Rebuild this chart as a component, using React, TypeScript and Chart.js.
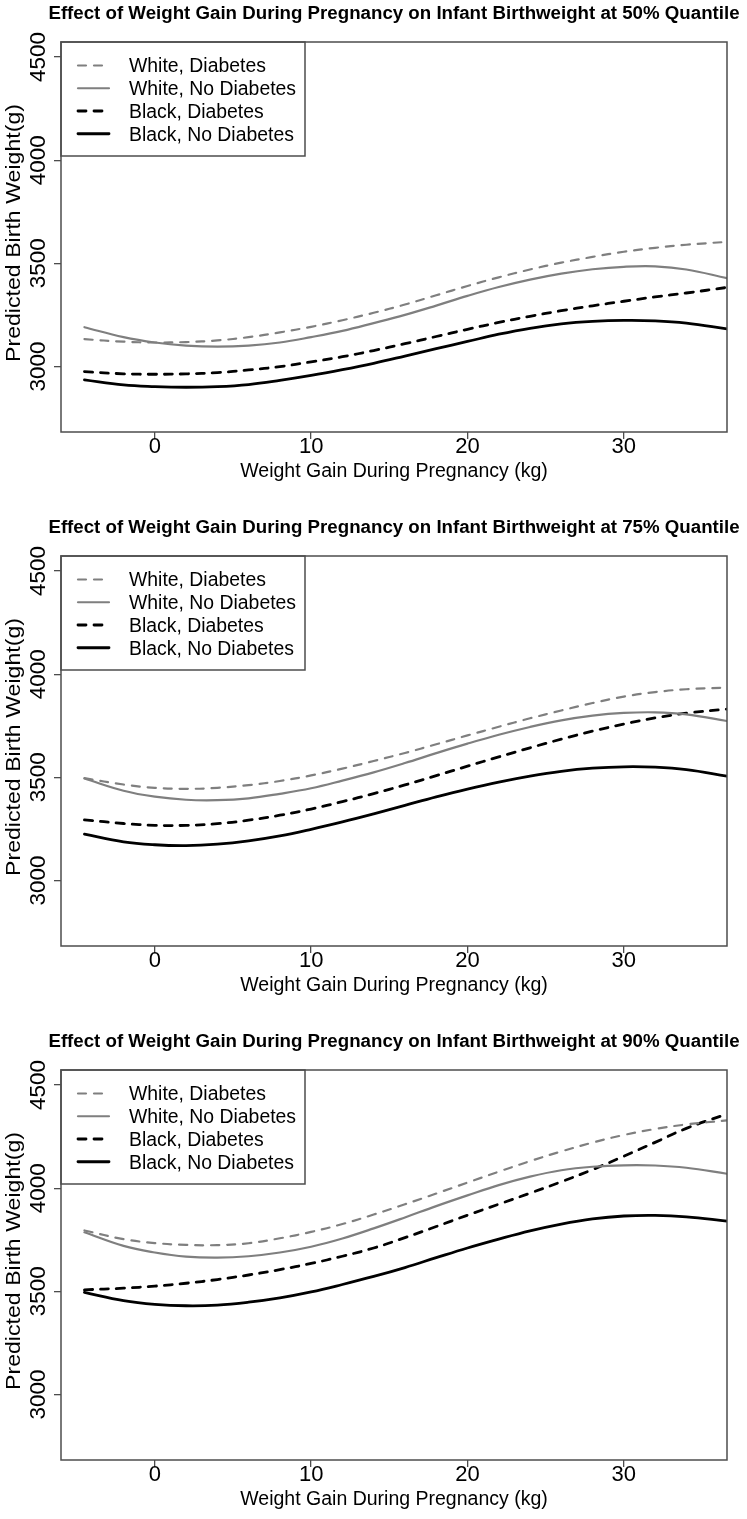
import { useEffect, useRef } from 'react';
import { Chart, registerables } from 'chart.js';

Chart.register(...registerables);

const FONT = '"Liberation Sans", Arial, Helvetica, sans-serif';

// weight gain (kg) at which the curves were read
const weightGain = [-4.5, -2, 0, 2, 4, 6, 8, 10, 12, 14, 16, 18, 20, 22, 24, 26, 28, 30, 32, 34, 36.6];

const xTicks = [0, 10, 20, 30];
const yTicks = [3000, 3500, 4000, 4500];

const seriesLabels = ['White, Diabetes', 'White, No Diabetes', 'Black, Diabetes', 'Black, No Diabetes'];

// 50% quantile
const q50WhiteDiabetes = [3132, 3120, 3116, 3118, 3126, 3142, 3165, 3192, 3224, 3260, 3300, 3345, 3390, 3432, 3470, 3503, 3531, 3556, 3575, 3590, 3604];
const q50WhiteNoDiabetes = [3190, 3142, 3116, 3101, 3096, 3101, 3116, 3142, 3172, 3210, 3250, 3295, 3342, 3385, 3421, 3450, 3471, 3483, 3485, 3470, 3428];
const q50BlackDiabetes = [2975, 2964, 2962, 2964, 2970, 2983, 2999, 3022, 3047, 3077, 3110, 3145, 3180, 3213, 3243, 3270, 3294, 3316, 3337, 3356, 3383];
const q50BlackNoDiabetes = [2935, 2910, 2902, 2899, 2902, 2912, 2932, 2956, 2984, 3015, 3050, 3086, 3121, 3156, 3185, 3206, 3218, 3223, 3221, 3210, 3182];

// 75% quantile
const q75WhiteDiabetes = [3496, 3465, 3449, 3444, 3449, 3462, 3482, 3509, 3542, 3579, 3618, 3660, 3703, 3745, 3786, 3824, 3860, 3891, 3913, 3927, 3935];
const q75WhiteNoDiabetes = [3494, 3435, 3406, 3391, 3389, 3398, 3420, 3447, 3484, 3524, 3569, 3617, 3663, 3706, 3744, 3776, 3799, 3812, 3815, 3805, 3773];
const q75BlackDiabetes = [3294, 3276, 3267, 3267, 3275, 3292, 3316, 3346, 3382, 3421, 3463, 3508, 3554, 3599, 3643, 3685, 3724, 3758, 3788, 3811, 3831];
const q75BlackNoDiabetes = [3224, 3187, 3173, 3169, 3176, 3192, 3216, 3248, 3284, 3323, 3364, 3405, 3443, 3477, 3506, 3529, 3544, 3551, 3549, 3537, 3506];

// 90% quantile
const q90WhiteDiabetes = [3795, 3753, 3734, 3725, 3724, 3733, 3757, 3788, 3826, 3872, 3922, 3974, 4027, 4080, 4131, 4178, 4221, 4258, 4287, 4309, 4329];
const q90WhiteNoDiabetes = [3786, 3720, 3688, 3668, 3663, 3670, 3688, 3716, 3756, 3805, 3858, 3913, 3965, 4015, 4056, 4087, 4104, 4111, 4110, 4099, 4070];
const q90BlackDiabetes = [3507, 3515, 3525, 3539, 3557, 3579, 3605, 3635, 3670, 3710, 3760, 3814, 3869, 3922, 3976, 4031, 4090, 4155, 4222, 4290, 4360];
const q90BlackNoDiabetes = [3495, 3455, 3437, 3430, 3433, 3447, 3468, 3497, 3533, 3572, 3615, 3663, 3710, 3753, 3793, 3826, 3851, 3865, 3868, 3861, 3840];

const quantiles = ['50%', '75%', '90%'];
const quantileSeries = [
  [q50WhiteDiabetes, q50WhiteNoDiabetes, q50BlackDiabetes, q50BlackNoDiabetes],
  [q75WhiteDiabetes, q75WhiteNoDiabetes, q75BlackDiabetes, q75BlackNoDiabetes],
  [q90WhiteDiabetes, q90WhiteNoDiabetes, q90BlackDiabetes, q90BlackNoDiabetes],
];

const lineStyles = [
  { color: '#7f7f7f', dash: [8, 8], width: 2.2 },
  { color: '#7f7f7f', dash: [], width: 2.2 },
  { color: '#000000', dash: [8, 8], width: 2.8 },
  { color: '#000000', dash: [], width: 2.8 },
];

const FRAME = '#4d4d4d';
const X_AXIS_HEIGHT = 51.2;

// draws the R-style box, main title, rotated y labels and boxed legend
const rPlotFrame = {
  id: 'rPlotFrame',
  afterDraw(chart: any, _args: any, opts: any) {
    const { ctx, chartArea: ca } = chart;
    const yScale = chart.scales.y;
    ctx.save();

    ctx.strokeStyle = FRAME;
    ctx.lineWidth = 1.5;
    ctx.setLineDash([]);
    ctx.strokeRect(ca.left, ca.top, ca.right - ca.left, ca.bottom - ca.top);

    ctx.fillStyle = '#000';
    ctx.textAlign = 'center';
    ctx.textBaseline = 'middle';
    ctx.font = `bold 18.7px ${FONT}`;
    ctx.fillText(opts.title, (ca.left + ca.right) / 2, ca.top - 28);

    ctx.font = `22.5px ${FONT}`;
    yScale.ticks.forEach((t: any) => {
      const py = yScale.getPixelForValue(t.value);
      ctx.save();
      ctx.translate(ca.left - 22, py);
      ctx.rotate(-Math.PI / 2);
      ctx.fillText(String(t.value), 0, 0);
      ctx.restore();
    });

    ctx.save();
    ctx.translate(ca.left - 47, (ca.top + ca.bottom) / 2 - 4);
    ctx.rotate(-Math.PI / 2);
    ctx.font = `20.5px ${FONT}`;
    const w = ctx.measureText(opts.yTitle).width;
    ctx.scale(258 / w, 1);
    ctx.fillText(opts.yTitle, 0, 0);
    ctx.restore();

    // legend
    ctx.strokeStyle = FRAME;
    ctx.lineWidth = 1.5;
    ctx.strokeRect(ca.left, ca.top, 244, 114);
    ctx.textAlign = 'left';
    ctx.font = `19.4px ${FONT}`;
    chart.data.datasets.forEach((ds: any, i: number) => {
      const ty = ca.top + 25 + i * 22.75;
      ctx.beginPath();
      ctx.setLineDash(ds.borderDash || []);
      ctx.lineCap = 'round';
      ctx.lineWidth = ds.borderWidth;
      ctx.strokeStyle = ds.borderColor;
      ctx.moveTo(ca.left + 17, ty - 1.5);
      ctx.lineTo(ca.left + 48, ty - 1.5);
      ctx.stroke();
      ctx.setLineDash([]);
      ctx.fillStyle = '#000';
      ctx.fillText(ds.label, ca.left + 68, ty);
    });

    ctx.restore();
  },
};

function QuantilePanel({ index, height }: { index: number; height: number }) {
  const canvasRef = useRef<HTMLCanvasElement>(null);
  const chartRef = useRef<Chart | null>(null);

  useEffect(() => {
    if (!canvasRef.current) return;
    if (chartRef.current) chartRef.current.destroy();

    chartRef.current = new Chart(canvasRef.current, {
      type: 'line',
      data: {
        datasets: quantileSeries[index].map((vals, i) => ({
          label: seriesLabels[i],
          data: weightGain.map((x, k) => ({ x, y: vals[k] })),
          borderColor: lineStyles[i].color,
          borderWidth: lineStyles[i].width,
          borderDash: lineStyles[i].dash,
          borderCapStyle: 'round',
          borderJoinStyle: 'round',
          pointRadius: 0,
          tension: 0.4,
          fill: false,
        })),
      },
      options: {
        animation: false,
        responsive: true,
        maintainAspectRatio: false,
        layout: { padding: { top: 42, left: 0, right: 20, bottom: height - 432 - X_AXIS_HEIGHT } },
        plugins: {
          legend: { display: false },
          title: { display: false },
          tooltip: { enabled: false },
          rPlotFrame: {
            title: `Effect of Weight Gain During Pregnancy on Infant Birthweight at ${quantiles[index]} Quantile`,
            yTitle: 'Predicted Birth Weight(g)',
          },
        } as any,
        scales: {
          x: {
            type: 'linear',
            min: -6,
            max: 36.6,
            afterBuildTicks: (s: any) => { s.ticks = xTicks.map((value) => ({ value })); },
            afterFit: (s: any) => { s.height = X_AXIS_HEIGHT; },
            ticks: {
              autoSkip: false,
              maxRotation: 0,
              color: '#000',
              padding: -3,
              font: { family: FONT, size: 22, lineHeight: 1 },
            },
            grid: { display: true, drawOnChartArea: false, drawTicks: true, tickLength: 7, color: FRAME, lineWidth: 1.3 },
            border: { display: false },
            title: {
              display: true,
              text: 'Weight Gain During Pregnancy (kg)',
              color: '#000',
              font: { family: FONT, size: 19.5, lineHeight: 1.2 },
              padding: { top: 0, bottom: 0 },
            },
          },
          y: {
            type: 'linear',
            min: 2682,
            max: 4573,
            afterBuildTicks: (s: any) => { s.ticks = yTicks.map((value) => ({ value })); },
            afterFit: (s: any) => { s.width = 61; },
            ticks: { display: false },
            grid: { display: true, drawOnChartArea: false, drawTicks: true, tickLength: 7, color: FRAME, lineWidth: 1.3 },
            border: { display: false },
          },
        },
      },
      plugins: [rPlotFrame],
    });

    return () => {
      if (chartRef.current) {
        chartRef.current.destroy();
        chartRef.current = null;
      }
    };
  }, [index, height]);

  return (
    <div style={{ position: 'relative', width: 747, height }}>
      <canvas ref={canvasRef}></canvas>
    </div>
  );
}

export default function App() {
  return (
    <div style={{ position: 'absolute', left: 0, top: 0, width: 747, background: '#fff' }}>
      {quantiles.map((q, i) => (
        <QuantilePanel key={q} index={i} height={i < 2 ? 514 : 491} />
      ))}
    </div>
  );
}
